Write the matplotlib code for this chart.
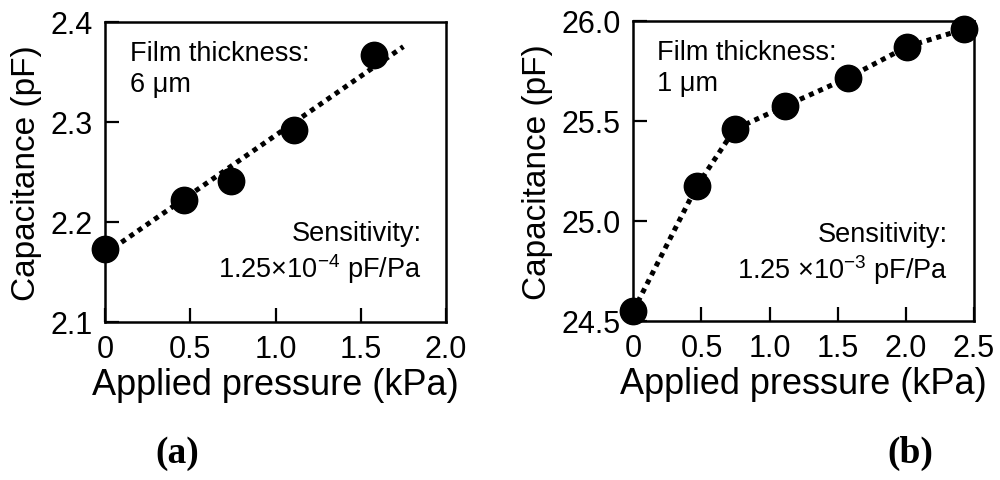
import numpy as np
import matplotlib
matplotlib.use("Agg")
import matplotlib.pyplot as plt

plt.rcParams['font.family'] = ['Liberation Sans', 'DejaVu Sans']
plt.rcParams['mathtext.fontset'] = 'custom'
plt.rcParams['mathtext.rm'] = 'Liberation Sans'
plt.rcParams['mathtext.it'] = 'Liberation Sans:italic'

# panel (a): 6 um film
pressure_a = [0.0, 0.465, 0.739, 1.108, 1.578]
cap_a = [2.173, 2.222, 2.241, 2.292, 2.367]
fit_x_a = [0.0, 1.75]
fit_y_a = [2.168, 2.375]
xticks_a = [0, 0.5, 1.0, 1.5, 2.0]
xlabels_a = ["0", "0.5", "1.0", "1.5", "2.0"]
yticks_a = [2.1, 2.2, 2.3, 2.4]
ylabels_a = ["2.1", "2.2", "2.3", "2.4"]

# panel (b): 1 um film
pressure_b = [0.0, 0.465, 0.743, 1.115, 1.578, 2.01, 2.427]
cap_b = [24.55, 25.172, 25.457, 25.574, 25.716, 25.871, 25.958]
xticks_b = [0, 0.5, 1.0, 1.5, 2.0, 2.5]
xlabels_b = ["0", "0.5", "1.0", "1.5", "2.0", "2.5"]
yticks_b = [24.5, 25.0, 25.5, 26.0]
ylabels_b = ["24.5", "25.0", "25.5", "26.0"]

fig = plt.figure(figsize=(10, 4.81), dpi=100)
ax1 = fig.add_axes([0.105, 0.329, 0.341, 0.624])
ax2 = fig.add_axes([0.6333, 0.331, 0.3407, 0.6237])


def style(ax, xt, xl, yt, yl, xlim, ylim):
    ax.set_xlim(*xlim)
    ax.set_ylim(*ylim)
    ax.set_xticks(xt)
    ax.set_xticklabels(xl)
    ax.set_yticks(yt)
    ax.set_yticklabels(yl)
    ax.tick_params(direction='in', length=10, width=1.6, labelsize=22, pad=9)
    for s in ax.spines.values():
        s.set_linewidth(1.8)
    ax.set_xlabel("Applied pressure (kPa)", fontsize=26, labelpad=2)
    ax.set_ylabel("Capacitance (pF)", fontsize=24, labelpad=6)


# (a)
ax1.plot(fit_x_a, fit_y_a, color='black', lw=3.6, linestyle=(0, (1, 1)),
         dash_capstyle='butt', zorder=2)
ax1.plot(pressure_a, cap_a, 'o', color='black', ms=19, clip_on=False, zorder=3)
style(ax1, xticks_a, xlabels_a, yticks_a, ylabels_a, (0, 2.0), (2.1, 2.4))
ax1.text(0.073, 0.94, "Film thickness:\n6 μm", transform=ax1.transAxes,
         fontsize=19.5, ha='left', va='top', linespacing=1.25)
ax1.text(0.929, 0.34, "Sensitivity:", transform=ax1.transAxes,
         fontsize=19.5, ha='right', va='top')
ax1.text(0.929, 0.15, r"1.25$\times$10$^{-4}$ pF/Pa", transform=ax1.transAxes,
         fontsize=19.5, ha='right', va='baseline')

# (b)
ax2.plot(pressure_b, cap_b, color='black', lw=3.6, linestyle=(0, (1, 1)),
         dash_capstyle='butt', zorder=2, clip_on=False)
ax2.plot(pressure_b, cap_b, 'o', color='black', ms=19, clip_on=False, zorder=3)
style(ax2, xticks_b, xlabels_b, yticks_b, ylabels_b, (0, 2.5), (24.5, 26.0))
ax2.text(0.069, 0.94, "Film thickness:\n1 μm", transform=ax2.transAxes,
         fontsize=19.5, ha='left', va='top', linespacing=1.25)
ax2.text(0.924, 0.333, "Sensitivity:", transform=ax2.transAxes,
         fontsize=19.5, ha='right', va='top')
ax2.text(0.924, 0.143, r"1.25 $\times$10$^{-3}$ pF/Pa", transform=ax2.transAxes,
         fontsize=19.5, ha='right', va='baseline')

fig.text(0.177, 0.058, "(a)", fontsize=27, fontweight='bold',
         family='Liberation Serif', ha='center', va='center')
fig.text(0.910, 0.058, "(b)", fontsize=27, fontweight='bold',
         family='Liberation Serif', ha='center', va='center')

fig.savefig("out.png", dpi=100)
